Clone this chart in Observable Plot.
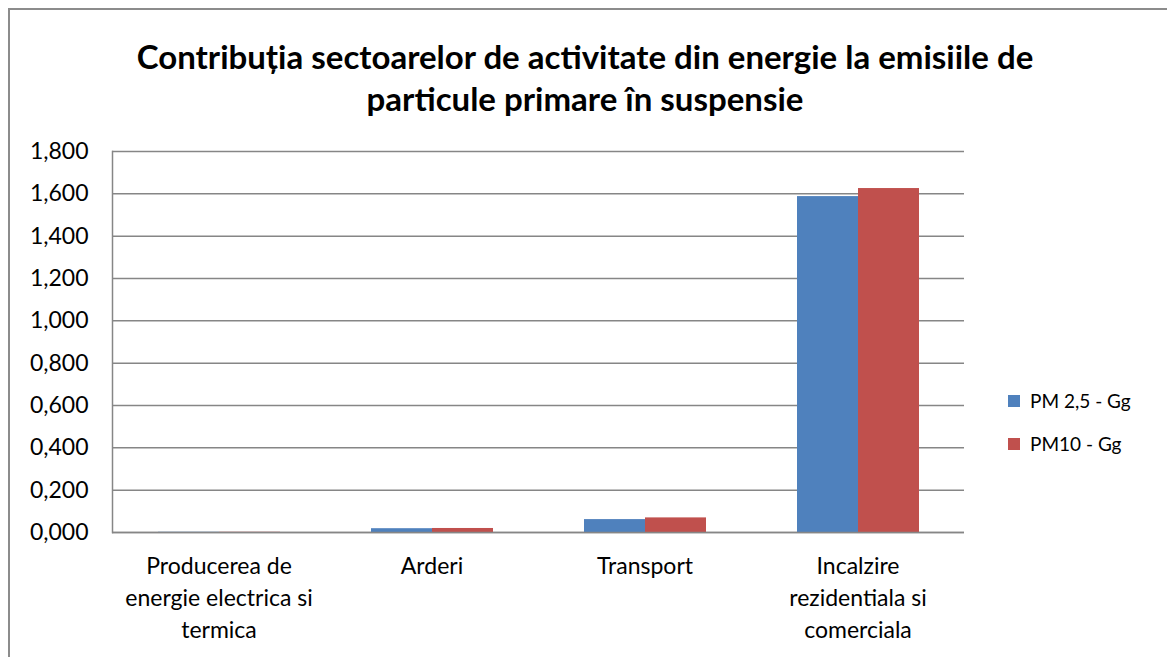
<!DOCTYPE html>
<html>
<head>
<meta charset="utf-8">
<script src="https://cdn.jsdelivr.net/npm/d3@7"></script>
<script src="https://cdn.jsdelivr.net/npm/@observablehq/plot@0.6"></script>
<style>
  html, body { margin: 0; padding: 0; background: #fff; }
  body { width: 1167px; height: 657px; position: relative; overflow: hidden; font-family: Lato, "Liberation Sans", sans-serif; }
  #frame { position: absolute; left: 8px; top: 8px; width: 1200px; height: 700px; border-left: 2px solid #8c8c8c; border-top: 2px solid #8c8c8c; }
  #title { position: absolute; left: 0; top: 35px; width: 1170px; text-align: center; font-weight: bold; font-size: 33px; line-height: 42px; color: #000; }
  #chart { position: absolute; left: 0; top: 130px; }
  #legend { position: absolute; left: 1008px; top: 379px; font-size: 19px; color: #000; }
  #legend .item { display: flex; align-items: center; height: 43px; }
  #legend .sw { width: 12px; height: 12px; margin-right: 10px; }
</style>
</head>
<body>
<div id="frame"></div>
<div id="title">Contribuția sectoarelor de activitate din energie la emisiile de<br>particule primare în suspensie</div>
<div id="chart"></div>
<div id="legend"></div>
<script>
const categories = ["Producerea de energie electrica si termica", "Arderi", "Transport", "Incalzire rezidentiala si comerciala"];
const categoryLabels = ["Producerea de\nenergie electrica si\ntermica", "Arderi", "Transport", "Incalzire\nrezidentiala si\ncomerciala"];
const seriesNames = ["PM 2,5 - Gg", "PM10 - Gg"];
const pm25 = [0.001, 0.018, 0.061, 1.587];
const pm10 = [0.001, 0.019, 0.069, 1.625];
const seriesColors = ["#4F81BD", "#C0504D"];
const yTicks = [0, 0.2, 0.4, 0.6, 0.8, 1.0, 1.2, 1.4, 1.6, 1.8];

const data = [];
categories.forEach((c, i) => {
  data.push({category: c, series: seriesNames[0], value: pm25[i]});
  data.push({category: c, series: seriesNames[1], value: pm10[i]});
});

const fmt = v => d3.format(".3f")(v).replace(".", ",");
const labelOf = c => categoryLabels[categories.indexOf(c)];

const chart = Plot.plot({
  width: 1167,
  height: 527,
  marginLeft: 110,
  marginRight: 202,
  marginTop: 21,
  marginBottom: 125,
  style: {fontFamily: "Lato, 'Liberation Sans', sans-serif", fontSize: "20px", color: "#000", background: "transparent"},
  fx: {domain: categories, padding: 0, label: null, axis: null},
  x: {domain: seriesNames, paddingInner: 0, paddingOuter: 0.74, axis: null},
  y: {domain: [0, 1.8], label: null},
  color: {domain: seriesNames, range: seriesColors},
  marks: [
    Plot.gridY(yTicks, {stroke: "#868686", strokeOpacity: 1, strokeWidth: 1.5}),
    Plot.axisY(yTicks, {tickSize: 0, tickPadding: 24, tickFormat: fmt, fontSize: 23, label: null}),
    Plot.axisFx({anchor: "bottom", tickSize: 0, tickPadding: 19, tickFormat: labelOf, fontSize: 23, lineHeight: 1.39, label: null}),
    Plot.barY(data, {fx: "category", x: "series", y: "value", fill: "series"}),
    Plot.ruleY([0], {stroke: "#868686", strokeWidth: 1.5}),
    Plot.frame({anchor: "left", stroke: "#868686", strokeWidth: 1.5, facetAnchor: "left"})
  ]
});
document.getElementById("chart").appendChild(chart);

const legend = d3.select("#legend");
seriesNames.forEach((s, i) => {
  const item = legend.append("div").attr("class", "item");
  item.append("div").attr("class", "sw").style("background", seriesColors[i]);
  item.append("span").text(s);
});
</script>
</body>
</html>
